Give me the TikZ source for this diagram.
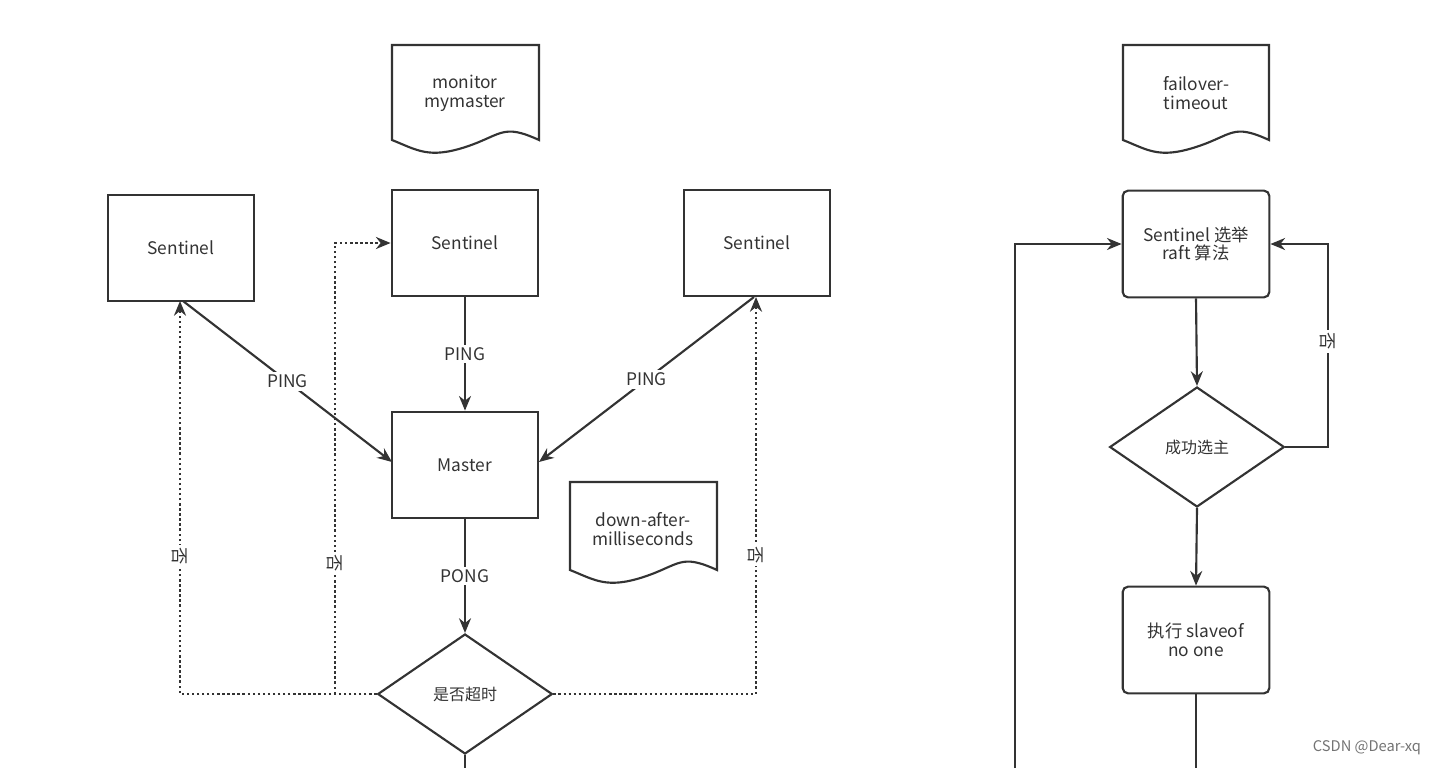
\documentclass[tikz,border=0pt]{standalone}
\usepackage{fontspec}
\setmainfont{Noto Sans CJK SC}
\usetikzlibrary{shapes.geometric,arrows.meta}
\begin{document}
\begin{tikzpicture}[x=0.75pt,y=-0.75pt,
  ln/.style={draw=black!80,line width=1.6pt},
  box/.style={ln,rectangle,minimum width=110pt,minimum height=80pt,inner sep=2pt,align=center,font=\fontsize{13}{16}\selectfont,text=black!80},
  rbox/.style={box,rounded corners=4pt},
  dia/.style={ln,diamond,minimum width=131pt,minimum height=90pt,inner sep=0pt,font=\fontsize{12}{15}\selectfont,text=black!80},
  arr/.style={ln,-{Stealth[length=11pt,width=9pt]}},
  dot/.style={draw=black!80,line width=1.8pt,dotted,-{Stealth[length=11pt,width=9pt]}},
  lab/.style={fill=white,inner sep=2pt,font=\fontsize{13}{16}\selectfont,text=black!80},
  tx/.style={align=center,font=\fontsize{13}{16}\selectfont,text=black!80}]
\useasboundingbox (0,0) rectangle (1451,768);
\newcommand\mydoc[5]{%
  \draw[ln] (#1,#2) -- (#3,#2) -- (#3,#4-15) .. controls (#3-37,#4-32) and (#1+110,#4-20) .. ({(#1+#3)/2},#4-8) .. controls ({(#1+#3)/2-37},#4+4) and (#1+25,#4-5) .. (#1,#4-15) -- cycle;
  \node[tx] (#5) at ({(#1+#3)/2},{#2+48}) {};}
% documents
\mydoc{392}{45}{539}{155}{d1}
\node[tx] (t1) at (465,93) {monitor\\[-2pt]mymaster};
\mydoc{570}{482}{717}{585}{d2}
\node[tx] (t2) at (643,529) {down-after-\\[-2pt]milliseconds};
\mydoc{1123}{45}{1269}{155}{d3}
\node[tx] (t3) at (1196,93) {failover-\\[-2pt]timeout};
% left nodes
\node[box] (sl) at (181,248) {Sentinel};
\node[box] (sm) at (465,243) {Sentinel};
\node[box] (sr) at (757,243) {Sentinel};
\node[box] (ma) at (465,465) {Master};
\node[dia] (d) at (465,694) {是否超时};
\coordinate (slb) at (183,301);
\coordinate (srb) at (754,297);
\coordinate (mal) at (392,462);
\coordinate (mar) at (539,462);
\coordinate (end1) at (465,768);
\draw[arr] (slb) -- node[lab,pos=0.5]{PING} (mal);
\draw[arr] (srb) -- node[lab,pos=0.5]{PING} (mar);
\draw[arr] (sm.south) -- node[lab]{PING} (ma.north);
\draw[arr] (ma.south) -- node[lab]{PONG} (d.north);
\draw[ln] (d.south) -- (end1);
\coordinate (c1) at (180,694);
\coordinate (c2) at (335,694);
\coordinate (c3) at (756,694);
\draw[dot] (d.west) -- (c1) -- node[lab,rotate=-90,pos=0.35]{否} (180,301);
\draw[dot] (c2) -- node[lab,rotate=-90,pos=0.29]{否} (335,243) -- (sm.west);
\draw[dot] (d.east) -- (c3) -- node[lab,rotate=-90,pos=0.35]{否} (756,297);
% right nodes
\node[rbox] (r1) at (1196,244) {Sentinel 选举\\[-2pt]raft 算法};
\node[dia] (d2) at (1197,447) {成功选主};
\node[rbox] (r2) at (1196,640) {执行 slaveof\\[-2pt]no one};
\coordinate (end2) at (1196,768);
\coordinate (lb) at (1015,768);
\draw[arr] (r1.south) -- (d2.north);
\draw[arr] (d2.south) -- (r2.north);
\draw[ln] (r2.south) -- (end2);
\draw[arr] (d2.east) -- (1328,447) -- node[lab,rotate=-90,pos=0.52]{否} (1328,244) -- (r1.east);
\draw[arr] (lb) -- (1015,244) -- (r1.west);
\node[font=\fontsize{11}{13}\selectfont,text=black!55] (wm) at (1367,748) {CSDN @Dear-xq};
\end{tikzpicture}
\end{document}
